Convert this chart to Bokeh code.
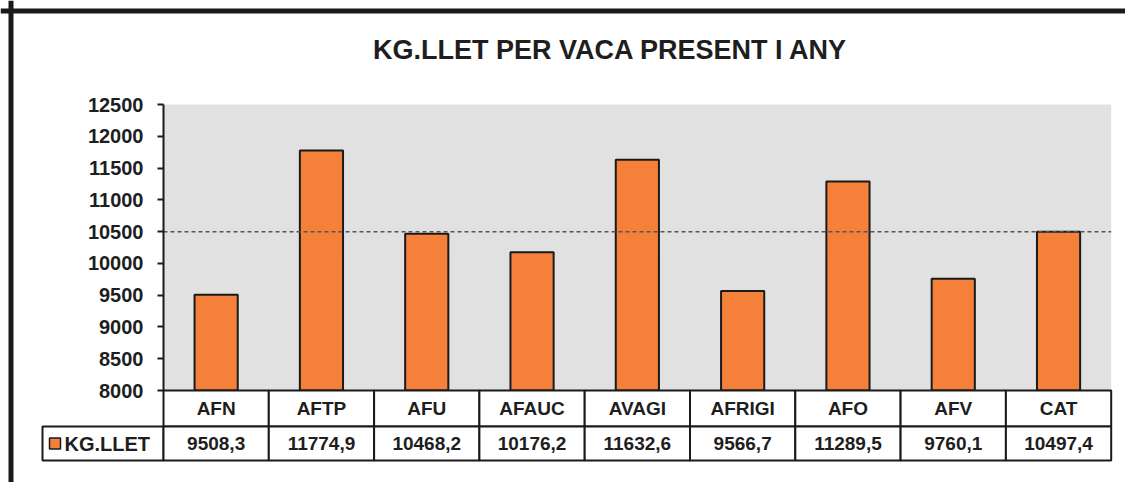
from bokeh.plotting import figure
from bokeh.models import Range1d, LinearAxis, FixedTicker, Span, BoxAnnotation, ColumnDataSource
from bokeh.core.properties import value
from bokeh.embed import file_html
from bokeh.resources import INLINE

# ---- data ----
categories = ["AFN", "AFTP", "AFU", "AFAUC", "AVAGI", "AFRIGI", "AFO", "AFV", "CAT"]
kg_llet = [9508.3, 11774.9, 10468.2, 10176.2, 11632.6, 9566.7, 11289.5, 9760.1, 10497.4]
series_name = "KG.LLET"
title_text = "KG.LLET PER VACA PRESENT I ANY"
y_ticks = [8000, 8500, 9000, 9500, 10000, 10500, 11000, 11500, 12000, 12500]
reference_value = kg_llet[categories.index("CAT")]

# ---- layout constants ----
W, H = 1125, 482
unit_px = 105.3              # px per category band
ky = 286.0 / 4500.0          # px per y unit
left_px = 163                # canvas px from left to band 0
top_px = 104                 # canvas px from top to y max tick
y_min, y_max = y_ticks[0], y_ticks[-1]
xs = -left_px / unit_px
xe = (W - left_px) / unit_px
ye = y_max + top_px / ky
ys = ye - H / ky

FONT = value("Liberation Sans")
TXT = "#1e1e1e"

p = figure(width=W, height=H, x_range=Range1d(xs, xe), y_range=Range1d(ys, ye),
           output_backend="svg", toolbar_location=None,
           x_axis_location=None, y_axis_location=None,
           min_border=0, outline_line_color=None,
           background_fill_color="white", border_fill_color="white")
p.grid.visible = False

n = len(categories)

# plot area background
p.add_layout(BoxAnnotation(left=0, right=n, bottom=y_min, top=y_max,
                           fill_color="#e1e1e1", fill_alpha=1.0,
                           line_color=None, level="underlay"))

# bars
src = ColumnDataSource(dict(x=[i + 0.5 for i in range(n)], top=kg_llet,
                            cat=categories,
                            lab=[f"{v:.1f}".replace(".", ",") for v in kg_llet]))
p.vbar(x="x", top="top", bottom=y_min, width=0.41, source=src,
       fill_color="#f4803a", line_color="#1a1a1a", line_width=2)

# reference dashed line
p.segment(x0=[0], x1=[n], y0=[reference_value], y1=[reference_value],
          line_color="#555555", line_width=1.6, line_dash="4 3")

# y axis
ax = LinearAxis(fixed_location=0, bounds=(y_min, y_max),
                ticker=FixedTicker(ticks=y_ticks, minor_ticks=[]))
ax.axis_line_color = "#1a1a1a"
ax.axis_line_width = 2
ax.major_tick_line_color = "#1a1a1a"
ax.major_tick_line_width = 2
ax.major_tick_out = 6
ax.major_tick_in = 0
ax.minor_tick_out = 0
ax.minor_tick_in = 0
ax.major_label_standoff = 14
ax.major_label_text_font = "Liberation Sans"
ax.major_label_text_font_style = "bold"
ax.major_label_text_font_size = "20px"
ax.major_label_text_color = TXT
p.add_layout(ax, "left")

# data table
row1 = 36 / ky
row2 = 34 / ky
r1_top, r1_bot = y_min, y_min - row1
r2_top, r2_bot = r1_bot, r1_bot - row2
p.quad(left=[i for i in range(n)], right=[i + 1 for i in range(n)],
       top=r1_top, bottom=r1_bot, fill_color="white", line_color="#1a1a1a", line_width=2)
leg_left = -121 / unit_px
p.quad(left=[leg_left] + [i for i in range(n)], right=[0] + [i + 1 for i in range(n)],
       top=r2_top, bottom=r2_bot, fill_color="white", line_color="#1a1a1a", line_width=2)

p.text(x="x", y=(r1_top + r1_bot) / 2, text="cat", source=src,
       text_font=FONT, text_font_style="bold", text_font_size="19px",
       text_color=TXT, text_align="center", text_baseline="middle")
p.text(x="x", y=(r2_top + r2_bot) / 2, text="lab", source=src,
       text_font=FONT, text_font_style="bold", text_font_size="19px",
       text_color=TXT, text_align="center", text_baseline="middle")

# legend key + name
p.scatter(x=[leg_left + 12.5 / unit_px], y=[(r2_top + r2_bot) / 2], marker="square",
          size=11, fill_color="#f4803a", line_color="#1a1a1a", line_width=1.5)
p.text(x=[leg_left + 22 / unit_px], y=[(r2_top + r2_bot) / 2], text=[series_name],
       text_font=FONT, text_font_style="bold", text_font_size="20px",
       text_color=TXT, text_align="left", text_baseline="middle")

# title
p.text(x=[(610 - 163) / unit_px], y=[y_max + (104 - 49) / ky], text=[title_text],
       text_font=FONT, text_font_style="bold", text_font_size="27px",
       text_color=TXT, text_align="center", text_baseline="middle")

# outer chart border (top and left edges visible)
p.add_layout(Span(location=xs + 10.5 / unit_px, dimension="height",
                  line_color="#1a1a1a", line_width=5))
p.add_layout(Span(location=ye - 10.5 / ky, dimension="width",
                  line_color="#1a1a1a", line_width=5))

open("out.html", "w").write(file_html(p, INLINE))
